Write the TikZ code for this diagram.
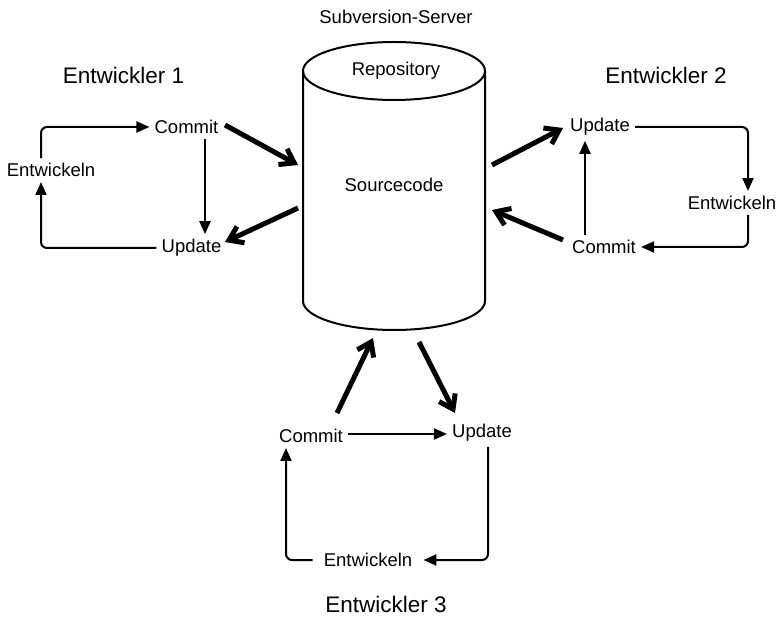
\documentclass[tikz,border=0pt]{standalone}
\usepackage{fontspec}
\setmainfont{Liberation Sans}
\usetikzlibrary{arrows.meta}
\begin{document}
\begin{tikzpicture}[x=1pt,y=-1pt,
  lbl/.style={font=\fontsize{18.5}{21}\selectfont, inner sep=5pt},
  grp/.style={font=\fontsize{22.5}{26}\selectfont, inner sep=0pt},
  flow/.style={line width=2pt, rounded corners=6pt, -{Triangle[length=13pt,width=11pt]}},
  sync/.style={line width=5pt, -{Straight Barb[length=13pt,width=18pt,line width=5pt]}},
  wall/.style={line width=2pt}]
\useasboundingbox (0,0) rectangle (779,617);

% server: cylinder
\node[font=\fontsize{18.5}{21}\selectfont] (srv) at (396,17) {Subversion-Server};
\draw[wall] (303,71) -- (303,301) arc[start angle=180,end angle=0,x radius=91,y radius=29] -- (485,71);
\draw[wall] (394,71) ellipse [x radius=91,y radius=29];
\node[lbl] (repo) at (396,71) {Repository};
\node[lbl] (src) at (394,185) {Sourcecode};

% developer 1
\node[grp] (g1) at (123.5,75) {Entwickler 1};
\node[lbl] (c1) at (186.5,127) {Commit};
\node[lbl] (e1) at (51,170) {Entwickeln};
\node[lbl] (u1) at (191.5,248) {Update};
\coordinate (a1) at (225,125);
\coordinate (s1in) at (298,165);
\coordinate (s1out) at (298,208);
\coordinate (b1) at (225,242);
\draw[flow] (e1.north -| 41,0) |- (c1.west);
\draw[flow] (c1.south -| 205,0) -- (u1.north -| 205,0);
\draw[flow] (u1.west) -| (e1.south -| 41,0);
\draw[sync] (a1) -- (s1in);
\draw[sync] (s1out) -- (b1);

% developer 2
\node[grp] (g2) at (666,75) {Entwickler 2};
\node[lbl] (u2) at (600,127) {Update};
\node[lbl] (e2) at (732,203) {Entwickeln};
\node[lbl] (c2) at (604,247) {Commit};
\coordinate (s2out) at (492,165);
\coordinate (b2) at (563,128);
\coordinate (a2) at (563,240);
\coordinate (s2in) at (492,210);
\draw[flow] (u2.east) -| (e2.north -| 748,0);
\draw[flow] (e2.south -| 748,0) |- (c2.east);
\draw[flow] (c2.north -| 585,0) -- (u2.south -| 585,0);
\draw[sync] (s2out) -- (b2);
\draw[sync] (a2) -- (s2in);

% developer 3
\node[grp] (g3) at (386,604) {Entwickler 3};
\node[lbl] (c3) at (311,436) {Commit};
\node[lbl] (u3) at (482,433) {Update};
\node[lbl, inner xsep=11pt] (e3) at (368,560) {Entwickeln};
\coordinate (a3) at (337,413);
\coordinate (s3in) at (373,338);
\coordinate (s3out) at (419,342);
\coordinate (b3) at (455,413);
\draw[flow] (c3.east |- 0,434) -- (u3.west |- 0,434);
\draw[flow] (u3.south -| 488,0) |- (e3.east);
\draw[flow] (e3.west) -| (c3.south -| 286,0);
\draw[sync] (a3) -- (s3in);
\draw[sync] (s3out) -- (b3);
\end{tikzpicture}
\end{document}
